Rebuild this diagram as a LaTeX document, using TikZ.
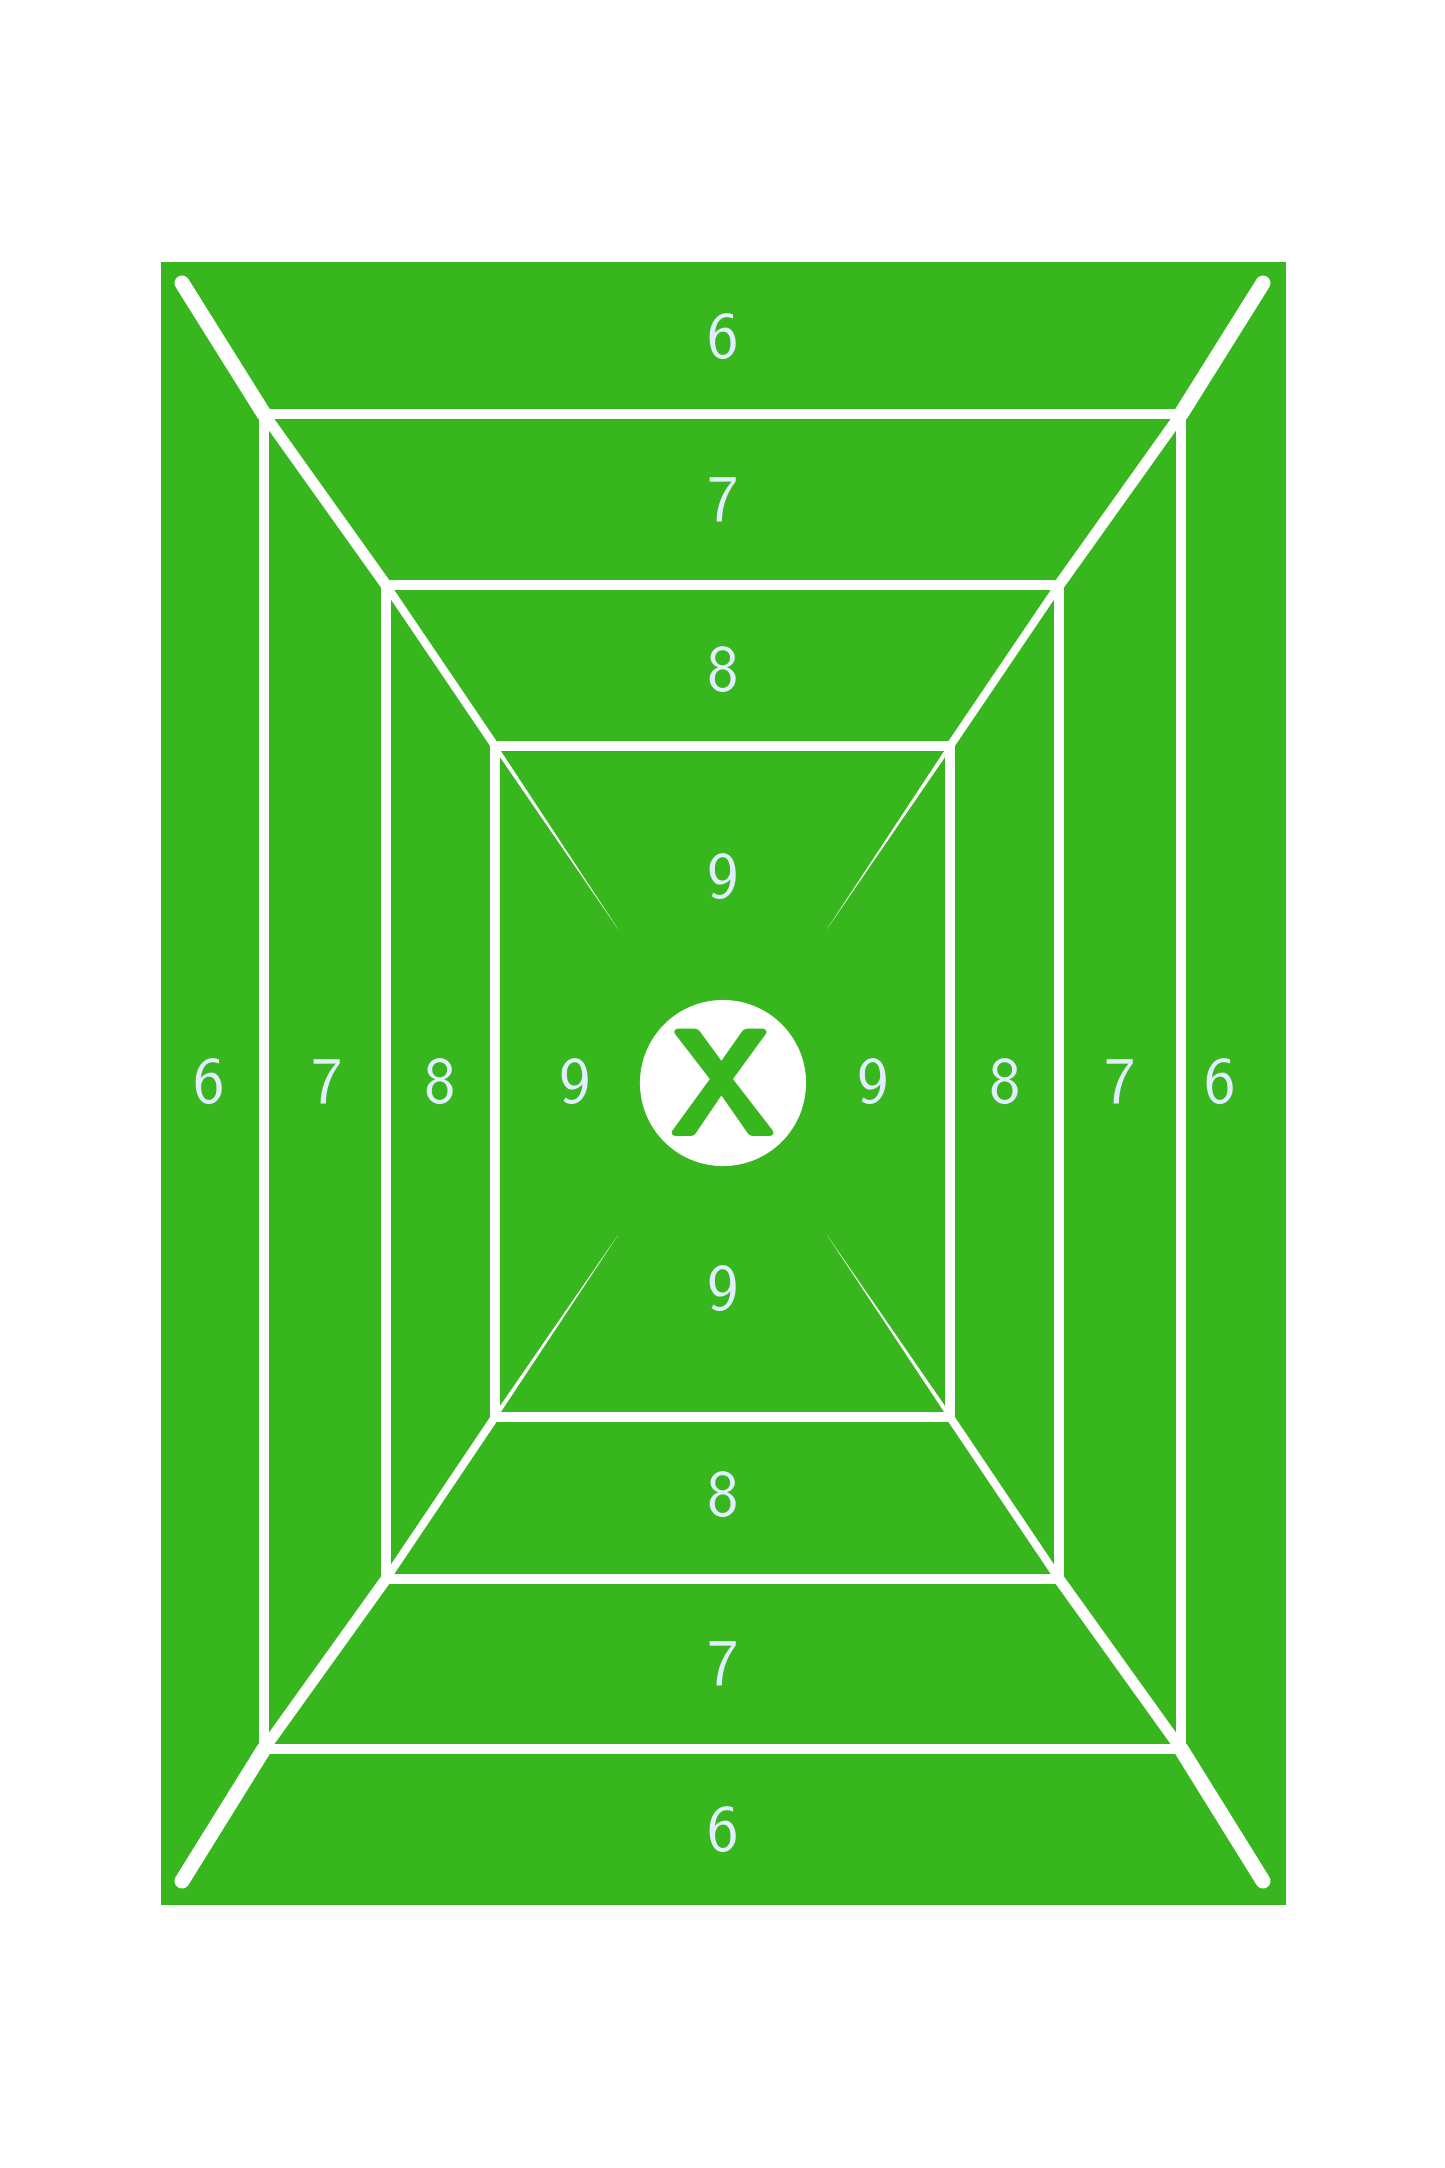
\documentclass[tikz,border=0pt]{standalone}
\usepackage{tikz}
\usetikzlibrary{calc}
\definecolor{fieldgreen}{RGB}{56,182,30}
\definecolor{digitwhite}{RGB}{226,238,255}
\tikzset{
  ring/.style = {draw = white, line width = 0.095cm},
  ridge/.style = {draw = white, line cap = round},
  score/.style = {text = digitwhite, inner sep = 0pt, font = \sffamily\fontsize{19}{23}\selectfont},
  bullseye/.style = {circle, fill = white, minimum size = 1.66cm, inner sep = 0pt, text = fieldgreen, font = \sffamily\bfseries\fontsize{44}{50}\selectfont},
}
\begin{document}
\begin{tikzpicture}[x = 0.01cm, y = -0.01cm]
\useasboundingbox (0,0) rectangle (1445,2168);
\fill[fieldgreen] (161,262) rectangle (1286,1905);
% corners of the three frames
\coordinate (otl) at (182,283);  \coordinate (otr) at (1263,283);
\coordinate (obl) at (182,1881); \coordinate (obr) at (1263,1881);
\coordinate (atl) at (264,414);  \coordinate (atr) at (1181,414);
\coordinate (abl) at (264,1749); \coordinate (abr) at (1181,1749);
\coordinate (btl) at (386,585);  \coordinate (btr) at (1059,585);
\coordinate (bbl) at (386,1579); \coordinate (bbr) at (1059,1579);
\coordinate (ctl) at (495,746);  \coordinate (ctr) at (950,746);
\coordinate (cbl) at (495,1417); \coordinate (cbr) at (950,1417);
% ends of the thin spokes
\coordinate (stl) at (618,929);  \coordinate (str) at (827,929);
\coordinate (sbl) at (618,1235); \coordinate (sbr) at (827,1235);
\draw[ring] (atl) rectangle (abr);
\draw[ring] (btl) rectangle (bbr);
\draw[ring] (ctl) rectangle (cbr);
\draw[ridge, line width = 0.15cm] (otl) -- (atl);
\draw[ridge, line width = 0.15cm] (otr) -- (atr);
\draw[ridge, line width = 0.15cm] (obl) -- (abl);
\draw[ridge, line width = 0.15cm] (obr) -- (abr);
\draw[ridge, line width = 0.11cm] (atl) -- (btl);
\draw[ridge, line width = 0.11cm] (atr) -- (btr);
\draw[ridge, line width = 0.11cm] (abl) -- (bbl);
\draw[ridge, line width = 0.11cm] (abr) -- (bbr);
\draw[ridge, line width = 0.08cm] (btl) -- (ctl);
\draw[ridge, line width = 0.08cm] (btr) -- (ctr);
\draw[ridge, line width = 0.08cm] (bbl) -- (cbl);
\draw[ridge, line width = 0.08cm] (bbr) -- (cbr);
\fill[white] ($(ctl)!0.6pt!90:(stl)$) -- (stl) -- ($(ctl)!0.6pt!-90:(stl)$) -- cycle;
\fill[white] ($(ctr)!0.6pt!90:(str)$) -- (str) -- ($(ctr)!0.6pt!-90:(str)$) -- cycle;
\fill[white] ($(cbl)!0.6pt!90:(sbl)$) -- (sbl) -- ($(cbl)!0.6pt!-90:(sbl)$) -- cycle;
\fill[white] ($(cbr)!0.6pt!90:(sbr)$) -- (sbr) -- ($(cbr)!0.6pt!-90:(sbr)$) -- cycle;
% scores
\node[score] (top6) at (723,337) {6};
\node[score] (top7) at (723,500) {7};
\node[score] (top8) at (723,670) {8};
\node[score] (top9) at (723,877) {9};
\node[score] (bot9) at (723,1289) {9};
\node[score] (bot8) at (723,1495) {8};
\node[score] (bot7) at (723,1664) {7};
\node[score] (bot6) at (723,1830) {6};
\node[score] (left6) at (209,1082) {6};
\node[score] (left7) at (327,1082) {7};
\node[score] (left8) at (440,1082) {8};
\node[score] (left9) at (575,1082) {9};
\node[score] (right9) at (873,1082) {9};
\node[score] (right8) at (1005,1082) {8};
\node[score] (right7) at (1120,1082) {7};
\node[score] (right6) at (1220,1082) {6};
\node[bullseye] (centre) at (723,1083) {X};
\end{tikzpicture}
\end{document}
